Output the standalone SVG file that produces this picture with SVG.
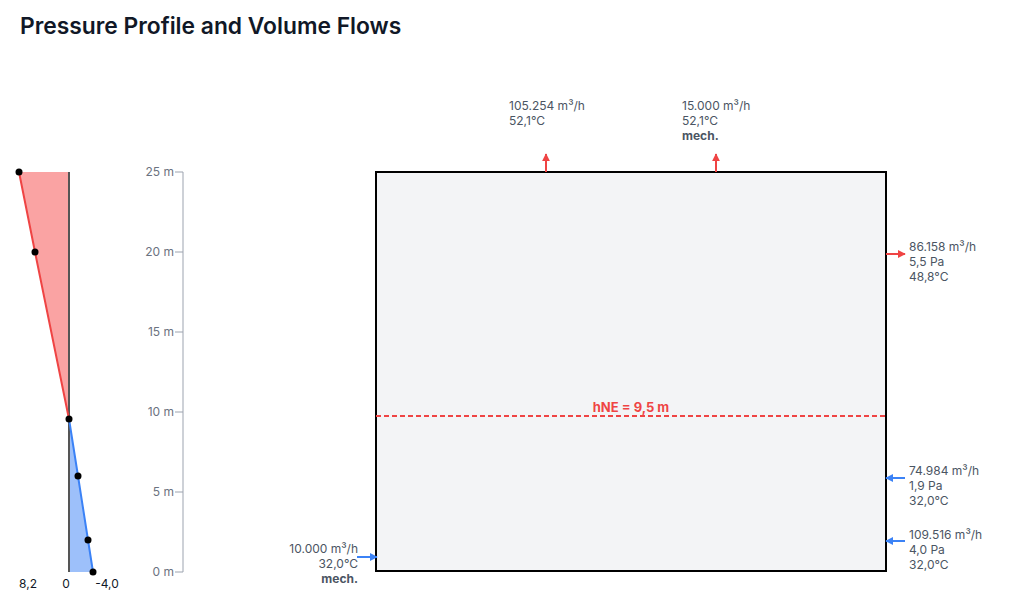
<svg xmlns="http://www.w3.org/2000/svg" width="1010" height="601" viewBox="0 0 1010 601">
<style>
.lbl{font-family:Inter,"Liberation Sans",sans-serif;font-size:12px;fill:#4b5563}
.b{font-weight:700}
.tick{font-family:Inter,"Liberation Sans",sans-serif;font-size:12px;fill:#6b7280;text-anchor:end}
.ax{font-family:Inter,"Liberation Sans",sans-serif;font-size:12px;fill:#111827;text-anchor:middle}
.red{stroke:#ef4444;stroke-width:2;fill:none}
.blue{stroke:#3b82f6;stroke-width:2;fill:none}
</style>
<defs>
<marker id="ar" viewBox="0 0 10 10" refX="9" refY="5" markerWidth="4" markerHeight="4" orient="auto" markerUnits="strokeWidth"><path d="M0,0 L10,5 L0,10 z" fill="#ef4444"/></marker>
<marker id="ab" viewBox="0 0 10 10" refX="9" refY="5" markerWidth="4" markerHeight="4" orient="auto" markerUnits="strokeWidth"><path d="M0,0 L10,5 L0,10 z" fill="#3b82f6"/></marker>
</defs>
<rect width="1010" height="601" fill="#fff"/>
<text x="20" y="34" font-family="Inter,'Liberation Sans',sans-serif" font-size="22.8" font-weight="600" fill="#111827">Pressure Profile and Volume Flows</text>

<g id="pressure-profile">
<polygon points="19,172 69,172 69,419" fill="#f87171" fill-opacity="0.65"/>
<polygon points="69,419 93,572 69,572" fill="#3b82f6" fill-opacity="0.5"/>
<line x1="69" y1="172" x2="69" y2="572" stroke="#555" stroke-width="2"/>
<polyline class="red" points="19,172 35,252 69,419"/>
<polyline class="blue" points="69,419 78,476 88,540 93,572"/>
<g fill="#000">
<circle cx="19" cy="172" r="3.5"/><circle cx="35" cy="252" r="3.5"/><circle cx="69" cy="419" r="3.5"/>
<circle cx="78" cy="476" r="3.5"/><circle cx="88" cy="540" r="3.5"/><circle cx="93" cy="572" r="3.5"/>
</g>
<text class="ax" x="28" y="588">8,2</text>
<text class="ax" x="66" y="588">0</text>
<text class="ax" x="107" y="588">-4,0</text>
</g>

<g id="height-axis">
<line x1="183" y1="172" x2="183" y2="572" stroke="#9ca3af" stroke-width="1"/>
<g stroke="#9ca3af" stroke-width="1">
<line x1="175" y1="172" x2="183" y2="172"/><line x1="175" y1="252" x2="183" y2="252"/>
<line x1="175" y1="332" x2="183" y2="332"/><line x1="175" y1="412" x2="183" y2="412"/>
<line x1="175" y1="492" x2="183" y2="492"/><line x1="175" y1="572" x2="183" y2="572"/>
</g>
<text class="tick" x="174" y="176">25 m</text>
<text class="tick" x="174" y="256">20 m</text>
<text class="tick" x="174" y="336">15 m</text>
<text class="tick" x="174" y="416">10 m</text>
<text class="tick" x="174" y="496">5 m</text>
<text class="tick" x="174" y="576">0 m</text>
</g>

<g id="building">
<rect x="376" y="172" width="510" height="399" fill="#f3f4f6" stroke="#000" stroke-width="2"/>
</g>

<g id="neutral-plane">
<line x1="376" y1="416" x2="886" y2="416" stroke="#ef4444" stroke-width="2" stroke-dasharray="5,3"/>
<text x="631" y="412" text-anchor="middle" font-family="Inter,'Liberation Sans',sans-serif" font-size="13" font-weight="700" fill="#ef4444">hNE = 9,5 m</text>
</g>

<g id="connectors">
<line class="red" x1="546" y1="172" x2="546" y2="154" marker-end="url(#ar)"/>
<line class="red" x1="716" y1="172" x2="716" y2="154" marker-end="url(#ar)"/>
<line class="red" x1="886" y1="254" x2="905" y2="254" marker-end="url(#ar)"/>
<line class="blue" x1="905" y1="478" x2="886" y2="478" marker-end="url(#ab)"/>
<line class="blue" x1="905" y1="541" x2="886" y2="541" marker-end="url(#ab)"/>
<line class="blue" x1="357" y1="557" x2="377" y2="557" marker-end="url(#ab)"/>
</g>

<g id="flow-top-1">
<text class="lbl" x="509" y="110">105.254 m³/h</text>
<text class="lbl" x="509" y="125">52,1°C</text>
</g>
<g id="flow-top-2">
<text class="lbl" x="682" y="110">15.000 m³/h</text>
<text class="lbl" x="682" y="125">52,1°C</text>
<text class="lbl b" x="682" y="140">mech.</text>
</g>
<g id="flow-right-1">
<text class="lbl" x="909" y="251">86.158 m³/h</text>
<text class="lbl" x="909" y="266">5,5 Pa</text>
<text class="lbl" x="909" y="281">48,8°C</text>
</g>
<g id="flow-right-2">
<text class="lbl" x="909" y="475">74.984 m³/h</text>
<text class="lbl" x="909" y="490">1,9 Pa</text>
<text class="lbl" x="909" y="505">32,0°C</text>
</g>
<g id="flow-right-3">
<text class="lbl" x="909" y="539">109.516 m³/h</text>
<text class="lbl" x="909" y="554">4,0 Pa</text>
<text class="lbl" x="909" y="569">32,0°C</text>
</g>
<g id="flow-left-1" text-anchor="end">
<text class="lbl" x="358" y="553">10.000 m³/h</text>
<text class="lbl" x="358" y="568">32,0°C</text>
<text class="lbl b" x="358" y="583">mech.</text>
</g>
</svg>
